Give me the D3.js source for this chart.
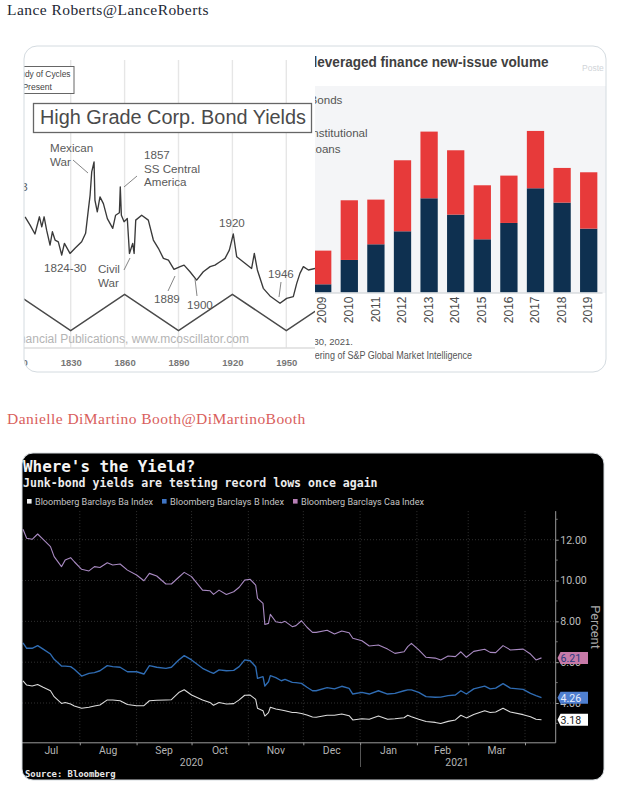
<!DOCTYPE html>
<html><head><meta charset="utf-8">
<script src="https://cdn.jsdelivr.net/npm/d3@7/dist/d3.min.js"></script>
<style>html,body{margin:0;padding:0;background:#fff}svg{display:block}</style></head>
<body><svg id="c" width="620" height="794" xmlns="http://www.w3.org/2000/svg"></svg>
<script>
// ---- Long-wave bond yield chart (top left)
const bondYears=[1804.6,1807.4,1810.1,1812.6,1813.9,1815.2,1816.6,1818.5,1819.8,1821.3,1823.1,1825,1826.5,1829.6,1832.4,1836.1,1838.3,1839.8,1840.8,1841.7,1843,1843.5,1844.8,1846.3,1848.2,1850.4,1853.4,1855,1857.1,1857.6,1858.2,1859.7,1861.5,1862.7,1864.5,1865.3,1866.2,1869.5,1873.2,1876,1878.8,1881.6,1884.4,1887.5,1890.9,1893.1,1896.4,1900.1,1903.8,1907.6,1910.3,1913.1,1915.9,1918.3,1920.5,1922.4,1927,1930.7,1932.2,1933.9,1937.2,1940.9,1946.5,1950.2,1953.9,1955.8,1957.6,1959.5,1962.3,1966];
const bondYield=[6.37,6,5.6,6.37,5.92,6.37,5.77,5.1,5.7,5.33,5.25,4.66,5.18,4.73,4.96,5.25,5.63,6.67,7.34,8.38,8.82,7.11,6.59,7.26,6.96,6.29,5.85,6.44,6.55,7.71,6.44,6.15,6.29,4.73,5.18,4.73,6.22,6.44,6.22,5.33,4.96,4.51,4.43,4.02,4.14,4.21,3.91,3.54,3.91,4.14,4.21,4.36,4.51,4.88,5.6,4.58,4.29,4.06,4.73,3.99,3.17,2.83,2.5,2.72,2.8,3.39,3.84,4.14,3.99,4.06];
const cycleYears=[1800,1830,1860,1890,1920,1950,1980];
const cycleLevels=[1,0,1,0,1,0,1];
const decadeTicks=[1800,1830,1860,1890,1920,1950];
// ---- Leveraged finance bars (top right)
const issueYears=["2009","2010","2011","2012","2013","2014","2015","2016","2017","2018","2019"];
const bondsVolume=[48,194,288,366,564,466,318,416,624,538,382];
const loansVolume=[202,358,268,426,400,386,324,284,344,208,338];
// ---- Bloomberg junk-bond yields (bottom)
const dayOffsets=[0,2,5,8,11,15,17,21,23,26,28,32,36,39,42,46,49,53,57,62,66,69,73,78,81,85,88,92,98,102,104,107,111,115,118,121,124,127,128,131,132,134,135,138,141,143,147,149,152,155,158,160,166,170,174,178,180,185,189,194,199,203,208,210,212,216,220,225,228,232,236,239,242,246,252,255,258,262,266,273,277,280,283];
const caaIndex=[12.51,12.07,12.02,12.28,12.02,11.66,11.17,10.68,11,11.12,10.92,10.55,10.47,10.68,10.64,10.87,10.76,10.81,10.51,10.27,9.99,10.35,10.22,9.83,9.83,10.16,10.4,10.19,9.53,9.5,9.32,9.53,9.32,9.45,9.67,10.02,10.06,9.78,9.13,8.88,7.85,7.9,8.34,7.98,7.93,8,7.74,7.79,8.03,7.71,7.46,7.46,7.56,7.38,7.53,7.44,7.17,7.05,6.79,6.84,6.64,6.43,6.51,6.76,6.92,6.6,6.24,6.2,6.11,6.3,6.27,6.51,6.24,6.53,6.63,6.48,6.47,6.81,6.6,6.64,6.4,6.11,6.21];
const bIndex=[6.95,6.68,6.68,6.81,6.64,6.4,6.14,5.81,5.81,5.78,5.65,5.32,5.45,5.49,5.58,5.83,5.78,5.75,5.53,5.53,5.42,5.83,5.75,5.7,5.75,6.11,6.32,6.11,5.7,5.53,5.45,5.62,5.58,5.6,5.78,6.11,6.07,5.78,5.21,5.29,4.83,5.04,5.34,5.24,5.09,5.16,5.01,5,4.96,4.77,4.6,4.6,4.75,4.69,4.82,4.72,4.44,4.52,4.44,4.6,4.44,4.47,4.6,4.64,4.64,4.52,4.31,4.28,4.29,4.36,4.39,4.6,4.44,4.69,4.83,4.69,4.73,4.95,4.73,4.67,4.47,4.36,4.26];
const baIndex=[5.08,4.88,4.83,4.91,4.77,4.6,4.31,3.98,4.02,3.95,3.85,3.74,3.79,3.85,3.9,4.15,4.15,4.11,3.93,3.87,3.87,4.11,4.13,4.15,4.16,4.51,4.65,4.39,4.15,4.03,3.89,4.02,3.95,3.97,4.15,4.38,4.39,4.18,3.74,3.62,3.36,3.53,3.79,3.71,3.66,3.62,3.53,3.53,3.49,3.41,3.31,3.3,3.4,3.4,3.46,3.38,3.17,3.23,3.2,3.36,3.2,3.23,3.28,3.4,3.33,3.2,3.09,3.05,3,3.1,3.17,3.4,3.27,3.44,3.62,3.53,3.56,3.74,3.56,3.43,3.33,3.2,3.18];
const yieldTicks=[4,6,8,10,12];
const minorTicks=[3,5,7,9,11,13];
const monthLabels=["Jul","Aug","Sep","Oct","Nov","Dec","Jan","Feb","Mar"];
const seriesNames=["Bloomberg Barclays Ba Index","Bloomberg Barclays B Index","Bloomberg Barclays Caa Index"];

const svg=d3.select("#c");
const SERIF="'Liberation Serif','DejaVu Serif',serif", SANS="'Liberation Sans',Arial,sans-serif", MONO="'DejaVu Sans Mono',monospace", ROB="Roboto,'Liberation Sans',sans-serif";
const defs=svg.append("defs");
defs.append("clipPath").attr("id","card").append("rect").attr("x",24).attr("y",46).attr("width",582).attr("height",326).attr("rx",13);
defs.append("clipPath").attr("id","lp").append("rect").attr("x",24).attr("y",46).attr("width",291).attr("height",326);
defs.append("clipPath").attr("id","rp").append("rect").attr("x",315).attr("y",46).attr("width",291).attr("height",326);
defs.append("clipPath").attr("id","blk").append("rect").attr("x",22).attr("y",453).attr("width",582).attr("height",327).attr("rx",11);

function txt(g,s,x,y,o={}){const t=g.append("text").attr("x",x).attr("y",y).attr("fill",o.fill||"#555").attr("font-family",o.ff||SANS).attr("font-size",o.fs||12).attr("font-weight",o.fw||null).attr("text-anchor",o.a||"start").text(s);
  if(o.len)t.attr("textLength",o.len).attr("lengthAdjust","spacingAndGlyphs");
  if(o.ls)t.attr("letter-spacing",o.ls);return t;}

// Handles
txt(svg,"Lance Roberts@LanceRoberts",7,14.5,{ff:SERIF,fs:15.5,ls:.45,fill:"#1c2733"});
txt(svg,"Danielle DiMartino Booth@DiMartinoBooth",7,424,{ff:SERIF,fs:15.5,ls:.45,fill:"#d9605c"});

// ---------- top card
const card=svg.append("g").attr("clip-path","url(#card)");
card.append("rect").attr("x",24).attr("y",46).attr("width",582).attr("height",326).attr("fill","#fff");

// left panel
const lp=card.append("g").attr("clip-path","url(#lp)");
const xYear=d3.scaleLinear().domain([1830,1950]).range([70.7,286.3]);
const yBond=d3.scaleLinear().domain([2.5,5.6]).range([303.3,234]);
const yCycle=d3.scaleLinear().domain([0,1]).range([330.7,294.3]);
lp.selectAll("line.grid").data(decadeTicks).join("line").attr("class","grid")
  .attr("x1",d=>xYear(d)).attr("x2",d=>xYear(d)).attr("y1",60).attr("y2",348)
  .attr("stroke","#e6e6e6").attr("stroke-width",1.4);
lp.append("path").datum(cycleYears).attr("fill","none").attr("stroke","#4a4a4a").attr("stroke-width",1.5)
  .attr("d",d3.line().x(d=>xYear(d)).y((d,i)=>yCycle(cycleLevels[i])));
lp.append("path").datum(bondYears).attr("fill","none").attr("stroke","#3a3a3a").attr("stroke-width",1.35).attr("stroke-linejoin","round")
  .attr("d",d3.line().x(d=>xYear(d)).y((d,i)=>yBond(bondYield[i])));
const bondAxis=lp.append("g").attr("transform","translate(0,348)")
  .call(d3.axisBottom(xYear).tickValues(decadeTicks).tickFormat(d3.format("d")).tickSize(0).tickPadding(11));
bondAxis.select(".domain").remove();
lp.append("line").attr("x1",24).attr("x2",315).attr("y1",348).attr("y2",348).attr("stroke","#ddd").attr("stroke-width",1.5);
bondAxis.selectAll("text").attr("font-family",SANS).attr("font-size",9.5).attr("font-weight","bold").attr("fill","#777");
// title + legend boxes
lp.append("rect").attr("x",33.5).attr("y",103.5).attr("width",278).attr("height",29).attr("fill","#fff").attr("stroke","#666").attr("stroke-width",1.3);
txt(lp,"High Grade Corp. Bond Yields",40,124,{fs:20,len:266,fill:"#4a4a4a"});
lp.append("rect").attr("x",10).attr("y",66.5).attr("width",64).attr("height",27).attr("fill","#fff").attr("stroke","#666").attr("stroke-width",1);
txt(lp,"Study of Cycles",70.5,77,{fs:8.4,a:"end",fill:"#444"});
txt(lp,"Present",52,90,{fs:8.6,a:"end",fill:"#444"});
const notes=[["Mexican",50,152],["War",50,166],["1857",144,159],["SS Central",144,173],["America",144,186],["1920",219,227],["1824-30",44,272],["Civil",98,273],["War",98,287],["1889",154,303],["1900",187,309],["1946",268,278],["1813",2,191]];
notes.forEach(n=>txt(lp,n[0],n[1],n[2],{fs:11.6,fill:"#5a5a5a"}));
const leaders=[[73,160,88,173],[137,176,124,187],[130,258,124,270],[175,276,168,291],[195,279,197,296],[281,282,279,297]];
lp.selectAll("line.lead").data(leaders).join("line").attr("class","lead")
  .attr("x1",d=>d[0]).attr("y1",d=>d[1]).attr("x2",d=>d[2]).attr("y2",d=>d[3]).attr("stroke","#777").attr("stroke-width",.9);
txt(lp,"Financial Publications, www.mcoscillator.com",249,343,{fs:12,a:"end",fill:"#b4b4b4"});

// right panel
const rp=card.append("g").attr("clip-path","url(#rp)");
rp.append("rect").attr("x",315).attr("y",86).attr("width",291).attr("height",207).attr("fill","#f4f5f7");
txt(rp,"leveraged finance new-issue volume",313.5,67,{fs:15,fw:"bold",len:235,fill:"#404040"});
txt(rp,"Poste",582,71,{fs:8.5,fill:"#d0d4d8"});
const xBar=d3.scaleBand().domain(issueYears).range([309.4,602]).paddingInner(.35).paddingOuter(.175);
const yVol=d3.scaleLinear().domain([0,1000]).range([292.3,125.6]);
const stack=d3.stack().keys(["bonds","loans"])(issueYears.map((y,i)=>({year:y,bonds:bondsVolume[i],loans:loansVolume[i]})));
const fills=["#0e3050","#e73a3a"];
rp.selectAll("g.s").data(stack).join("g").attr("class","s").attr("fill",(d,i)=>fills[i])
 .selectAll("rect").data(d=>d).join("rect")
 .attr("x",d=>xBar(d.data.year)).attr("width",xBar.bandwidth()).attr("y",d=>yVol(d[1])).attr("height",d=>yVol(d[0])-yVol(d[1]));
const barAxis=rp.append("g").attr("transform","translate(0,292.5)").call(d3.axisBottom(xBar).tickSize(0));
barAxis.select(".domain").attr("stroke","#c8ccd0").attr("stroke-width",1);
barAxis.selectAll("text").attr("font-family",SANS).attr("font-size",12).attr("fill","#4a4a4a")
  .attr("x",0).attr("y",0).attr("dy",".35em").attr("text-anchor","end")
  .attr("transform","translate(-0.5,4) rotate(-90)");
txt(rp,"Bonds",309.5,104,{fs:11.6,fill:"#555"});
txt(rp,"Institutional",309,137,{fs:11.6,fill:"#555"});
txt(rp,"Loans",309,153,{fs:11.6,fill:"#555"});
txt(rp,"March 30, 2021.",353,345,{fs:9.5,fill:"#555",a:"end"});
txt(rp,"Offering of S&P Global Market Intelligence",303,359,{fs:10,fill:"#555",len:169});
svg.append("rect").attr("x",24).attr("y",46).attr("width",582).attr("height",326).attr("rx",13).attr("fill","none").attr("stroke","#d4dbe0");

// ---------- bottom card
const bb=svg.append("g").attr("clip-path","url(#blk)");
bb.append("rect").attr("x",22).attr("y",453).attr("width",582).attr("height",327).attr("fill","#000");
txt(bb,"Where's the Yield?",23,472,{ff:MONO,fs:15.9,fw:"bold",fill:"#f4f4f4"});
txt(bb,"Junk-bond yields are testing record lows once again",23,487,{ff:MONO,fs:11.55,fw:"bold",fill:"#ececec"});
const lineColors=["#dcdcdc","#2f6cb3","#a98ac2"];
const swatchColors=["#f0f0f0","#3f74c4","#b77fb5"];
const legendX=[27,162,293], legendW=[118,114,123];
seriesNames.forEach((s,i)=>{
  bb.append("rect").attr("x",legendX[i]).attr("y",499).attr("width",4.6).attr("height",4.6).attr("fill",swatchColors[i]);
  txt(bb,s,legendX[i]+8,505,{ff:ROB,fs:8.4,len:legendW[i],fill:"#c4c4c4"});
});
const t0=new Date(2020,6,1);
const dates=dayOffsets.map(d=>d3.timeDay.offset(t0,d));
const xT=d3.scaleTime().domain([t0,new Date(2021,3,1)]).range([23,525]);
const yP=d3.scaleLinear().domain([4,12]).range([703,539.7]);
const plotL=22,plotR=555.7,plotB=yP(2.05),plotT=yP(13.4);
const monthTicks=d3.timeMonth.range(new Date(2020,7,1),new Date(2021,3,2));
bb.selectAll("line.hg").data(yieldTicks).join("line").attr("class","hg").attr("x1",plotL).attr("x2",plotR).attr("y1",d=>yP(d)).attr("y2",d=>yP(d))
  .attr("stroke","#3c3c3c").attr("stroke-width",.8).attr("stroke-dasharray","1 2");
bb.selectAll("line.vg").data(monthTicks).join("line").attr("class","vg").attr("x1",d=>xT(d)).attr("x2",d=>xT(d)).attr("y1",plotT).attr("y2",plotB)
  .attr("stroke","#3c3c3c").attr("stroke-width",.8).attr("stroke-dasharray","1 2");
const ln=v=>d3.line().x((d,i)=>xT(dates[i])).y((d,i)=>yP(v[i]));
[[baIndex,0,1.05],[bIndex,1,1.35],[caaIndex,2,1.1]].forEach(([v,i,w])=>{
  bb.append("path").datum(v).attr("fill","none").attr("stroke",lineColors[i]).attr("stroke-width",w).attr("stroke-linejoin","round").attr("d",ln(v));
});
// x axis
const xAx=bb.append("g").attr("transform",`translate(0,${plotB})`).call(d3.axisBottom(xT).tickValues(monthTicks).tickSize(2.5).tickFormat(""));
xAx.select(".domain").remove();
xAx.selectAll("line").attr("stroke","#999");
bb.append("line").attr("x1",plotL).attr("x2",plotR).attr("y1",plotB).attr("y2",plotB).attr("stroke","#9a9a9a");
const monthStarts=d3.timeMonth.range(t0,new Date(2021,3,1));
bb.selectAll("text.mon").data(monthLabels).join("text").attr("class","mon")
  .attr("x",(d,i)=>(xT(monthStarts[i])+xT(d3.timeMonth.offset(monthStarts[i],1)))/2).attr("y",753.5)
  .attr("text-anchor","middle").attr("font-family",ROB).attr("font-size",10.4).attr("fill","#b4b4b4").text(d=>d);
txt(bb,"2020",191.5,766,{ff:ROB,fs:10.4,fill:"#b4b4b4",a:"middle"});
txt(bb,"2021",457,766,{ff:ROB,fs:10.4,fill:"#b4b4b4",a:"middle"});
bb.append("line").attr("x1",360.5).attr("x2",360.5).attr("y1",745).attr("y2",767).attr("stroke","#555");
txt(bb,"Source: Bloomberg",25,777,{ff:MONO,fs:8.85,fw:"bold",fill:"#e8e8e8"});
// y axis
const yAx=bb.append("g").attr("transform",`translate(${plotR},0)`).call(d3.axisRight(yP).tickValues(yieldTicks).tickSize(3).tickPadding(1.5).tickFormat(d3.format(".2f")));
yAx.select(".domain").remove();
bb.append("line").attr("x1",plotR).attr("x2",plotR).attr("y1",plotT).attr("y2",plotB).attr("stroke","#9a9a9a");
yAx.selectAll("line").attr("stroke","#999");
yAx.selectAll("text").attr("font-family",ROB).attr("font-size",10.6).attr("fill","#bcbcbc");
bb.selectAll("line.mn").data(minorTicks).join("line").attr("class","mn").attr("x1",plotR).attr("x2",plotR+2).attr("y1",d=>yP(d)).attr("y2",d=>yP(d)).attr("stroke","#777");
txt(bb,"Percent",0,0,{ff:ROB,fs:12.8,fill:"#a8a8a8",a:"middle"}).attr("transform","translate(591,627) rotate(90)");
// last-value tags
const lastTags=[[caaIndex,"#c77aa8","#2a3a80"],[bIndex,"#4f7fd0","#e8eefc"],[baIndex,"#ffffff","#222"]];
lastTags.forEach(([v,f,tc])=>{
  const val=v[v.length-1], tagY=yP(val);
  bb.append("path").attr("d",d3.line()([[557.5,tagY],[560.5,tagY-6],[588,tagY-6],[588,tagY+6],[560.5,tagY+6]])+"Z").attr("fill",f);
  txt(bb,d3.format(".2f")(val),560.5,tagY+4,{ff:ROB,fs:10.6,fill:tc});
});
svg.append("rect").attr("x",22).attr("y",453).attr("width",582).attr("height",327).attr("rx",11).attr("fill","none").attr("stroke","#d6dbdf");
</script></body></html>
